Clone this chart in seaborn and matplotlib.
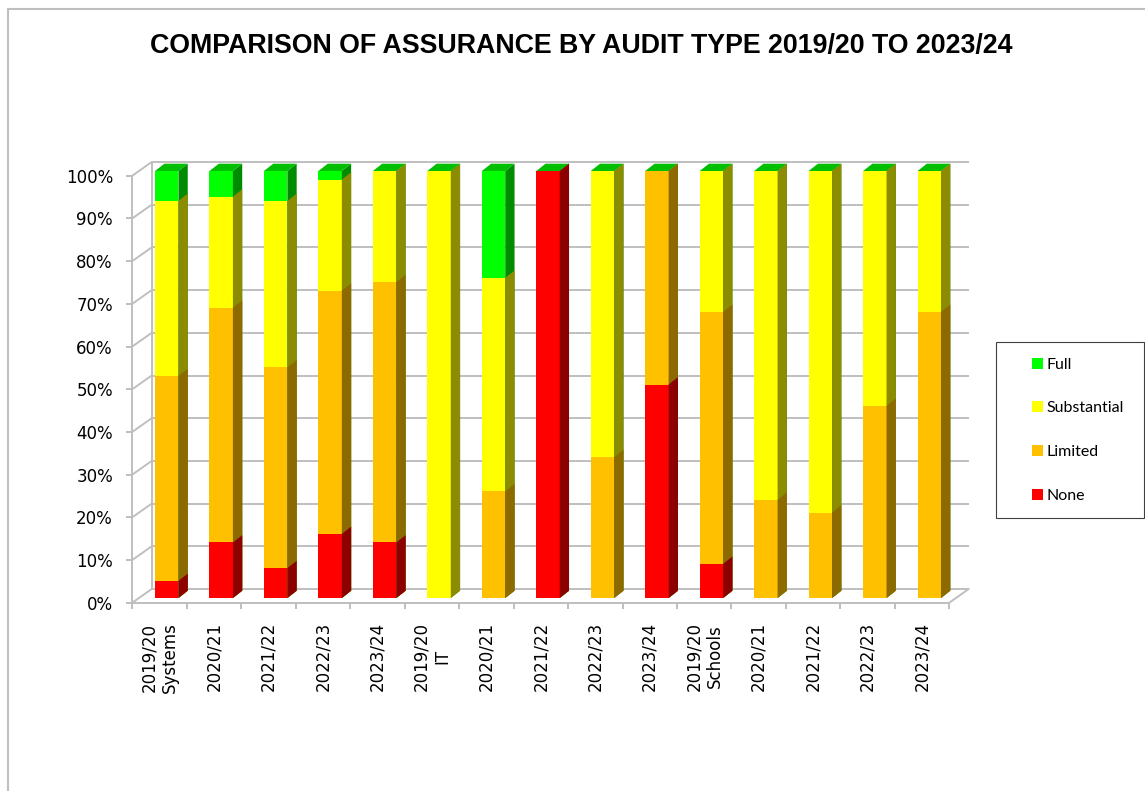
import numpy as np
import pandas as pd
import matplotlib
matplotlib.use("Agg")
import matplotlib.pyplot as plt
import matplotlib.colors as mcolors
import seaborn as sns
from matplotlib.transforms import offset_copy, IdentityTransform
from matplotlib.patches import Polygon, Rectangle, Patch
from matplotlib.lines import Line2D

# ---------------- data ----------------
groups = ["Systems"] * 5 + ["IT"] * 5 + ["Schools"] * 5
periods = ["2019/20", "2020/21", "2021/22", "2022/23", "2023/24"] * 3
none_vals = [4, 13, 7, 15, 13, 0, 0, 100, 0, 50, 8, 0, 0, 0, 0]
limited_vals = [48, 55, 47, 57, 61, 0, 25, 0, 33, 50, 59, 23, 20, 45, 67]
substantial_vals = [41, 26, 39, 26, 26, 100, 50, 0, 67, 0, 33, 77, 80, 55, 33]
full_vals = [7, 6, 7, 2, 0, 0, 25, 0, 0, 0, 0, 0, 0, 0, 0]
levels = ["Full", "Substantial", "Limited", "None"]
level_colors = ["#00FF00", "#FFFF00", "#FFC000", "#FF0000"]
y_ticks = list(range(0, 101, 10))
title = "COMPARISON OF ASSURANCE BY AUDIT TYPE 2019/20 TO 2023/24"

tick_labels = [f"{p}\n{g}" if i % 5 == 0 else p
               for i, (p, g) in enumerate(zip(periods, groups))]
colors = dict(zip(levels, level_colors))

df = pd.DataFrame({"pos": range(len(periods)),
                   "None": none_vals, "Limited": limited_vals,
                   "Substantial": substantial_vals, "Full": full_vals})
df["cum_None"] = df["None"]
df["cum_Limited"] = df["cum_None"] + df["Limited"]
df["cum_Substantial"] = df["cum_Limited"] + df["Substantial"]
df["cum_Full"] = df["cum_Substantial"] + df["Full"]

# ---------------- style ----------------
sns.set_style("white")
plt.rcParams["font.family"] = ["DejaVu Sans"]
plt.rcParams["text.color"] = "black"
GRID = "#BFBFBF"

W, H = 1145, 791
fig = plt.figure(figsize=(W / 100, H / 100), dpi=100)
fig.patch.set_facecolor("white")
ax = fig.add_axes([132.3 / W, (H - 602.7) / H, 817 / W, 427 / H])
ax.set_facecolor("none")

bar_tr = offset_copy(ax.transData, fig=fig, x=7.2, y=4.7, units="dots")
back_tr = offset_copy(ax.transData, fig=fig, x=19.4, y=13.7, units="dots")
DX, DY = 9.3, 7.3

level_patches = {}
for k, lev in enumerate(levels):
    n0 = len(ax.patches)
    sns.barplot(data=df, x="pos", y=f"cum_{lev}", color=colors[lev],
                saturation=1, width=0.43, linewidth=0, errorbar=None,
                ax=ax, zorder=3 + k)
    level_patches[lev] = list(ax.patches[n0:])

ax.set_xlim(-0.5, len(periods) - 0.5)
ax.set_ylim(0, 100)


def shade(c, f):
    return tuple(np.array(mcolors.to_rgb(c)) * f)


for k, lev in enumerate(levels):
    for p in level_patches[lev]:
        p.set_transform(bar_tr)
        p.set_clip_on(False)
        x0 = p.get_x()
        x1 = x0 + p.get_width()
        y0 = p.get_y()
        y1 = y0 + p.get_height()
        (X0, Y0), (X1, Y1) = bar_tr.transform([(x0, y0), (x1, y1)])
        side = Polygon([(X1, Y0), (X1, Y1), (X1 + DX, Y1 + DY), (X1 + DX, Y0 + DY)],
                       closed=True, facecolor=shade(colors[lev], 0.55),
                       edgecolor="none", transform=IdentityTransform(),
                       clip_on=False, zorder=3 + k)
        ax.add_patch(side)
        if k == 0:
            top = Polygon([(X0, Y1), (X1, Y1), (X1 + DX, Y1 + DY), (X0 + DX, Y1 + DY)],
                          closed=True, facecolor=shade(colors[lev], 0.75),
                          edgecolor="none", transform=IdentityTransform(),
                          clip_on=False, zorder=3 + k)
            ax.add_patch(top)

# back wall gridlines
xl, xr = ax.get_xlim()
ax.hlines(y_ticks, xl, xr, colors=GRID, lw=1.4, transform=back_tr,
          clip_on=False, zorder=1)
ax.vlines(xl, 0, 100, colors=GRID, lw=1.4, transform=back_tr,
          clip_on=False, zorder=1)
# left wall / floor diagonals
for (xx, yy) in [(xl, v) for v in y_ticks] + [(xr, 0)]:
    f = ax.transData.transform((xx, yy))
    b = back_tr.transform((xx, yy))
    ax.add_line(Line2D([f[0], b[0]], [f[1], b[1]], color=GRID, lw=1.4,
                       transform=IdentityTransform(), clip_on=False, zorder=1))

# axes
for s in ["top", "right"]:
    ax.spines[s].set_visible(False)
for s in ["left", "bottom"]:
    ax.spines[s].set_color(GRID)
    ax.spines[s].set_linewidth(1.4)
    ax.spines[s].set_zorder(1)

ax.set_yticks(y_ticks)
ax.set_yticklabels([f"{v}%" for v in y_ticks])
ax.tick_params(axis="y", left=True, length=4.3, width=1.4, color=GRID,
               pad=9.6, labelsize=12, direction="out", labelcolor="black")
ax.set_xticks(range(len(periods)))
ax.set_xticklabels(tick_labels, rotation=90)
ax.set_xticks(np.arange(-0.5, len(periods), 1), minor=True)
ax.tick_params(axis="x", which="major", length=0, pad=13.7, labelsize=12,
               labelcolor="black")
ax.tick_params(axis="x", which="minor", bottom=True, length=4, width=1.4,
               color=GRID, direction="out")
ax.set_xlabel("")
ax.set_ylabel("")

# title
fig.text(581 / W, 1 - 46 / H, title, ha="center", va="center", color="black",
         fontsize=19.3, fontweight="bold", family="Liberation Sans")

# legend
handles = [Patch(facecolor=colors[l], edgecolor="none") for l in levels]
leg = fig.legend(handles, levels, loc="center left",
                 bbox_to_anchor=(1031.7 / W, 1 - 430.2 / H), frameon=False,
                 prop={"family": "Lato", "size": 11.5}, labelspacing=1.85,
                 handlelength=0.7, handleheight=0.7, handletextpad=0.2,
                 borderpad=0, borderaxespad=0)
for t in leg.get_texts():
    t.set_color("black")
fig.add_artist(Rectangle((996 / W, 1 - 518.3 / H), (1144 - 996) / W,
                         (518.3 - 341.7) / H, transform=fig.transFigure,
                         fill=False, edgecolor="#404040", lw=0.8))

# outer chart border
fig.add_artist(Line2D([8 / W, 8 / W], [0, 1 - 9 / H], transform=fig.transFigure,
                      color=GRID, lw=1.5))
fig.add_artist(Line2D([8 / W, 1], [1 - 9 / H, 1 - 9 / H], transform=fig.transFigure,
                      color=GRID, lw=1.5))

fig.savefig("out.png", dpi=100, facecolor="white")
